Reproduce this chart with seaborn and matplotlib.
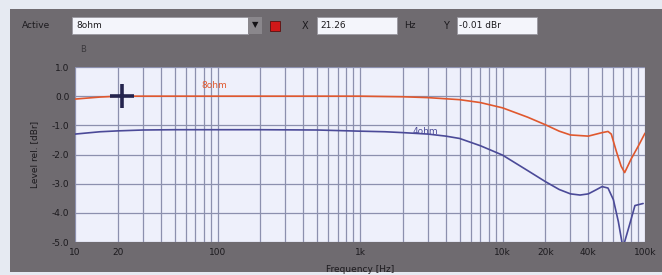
import numpy as np
import pandas as pd
import matplotlib
matplotlib.use("Agg")
import matplotlib.pyplot as plt
from matplotlib.patches import Rectangle
from matplotlib.ticker import FixedLocator, NullFormatter, LogLocator
import seaborn as sns

# ---- data ----
freq_8 = [10, 15, 20, 50, 100, 200, 500, 1000, 2000, 3000, 5000, 7000, 10000,
          15000, 20000, 25000, 30000, 40000, 50000, 55000, 58000, 63000, 68000,
          72000, 80000, 90000, 100000]
level_8 = [-0.10, -0.03, 0.0, 0.0, 0.0, 0.0, 0.0, 0.0, -0.02, -0.05, -0.12, -0.22, -0.40,
           -0.72, -0.98, -1.20, -1.33, -1.37, -1.25, -1.21, -1.30, -1.90, -2.40,
           -2.62, -2.15, -1.70, -1.27]
freq_4 = [10, 15, 20, 30, 50, 100, 200, 500, 1000, 1500, 2000, 3000, 4000, 5000, 7000,
          10000, 15000, 20000, 25000, 30000, 35000, 40000, 45000, 50000, 55000,
          60000, 65000, 70000, 78000, 85000, 97000]
level_4 = [-1.30, -1.22, -1.19, -1.16, -1.15, -1.15, -1.15, -1.16, -1.20, -1.22, -1.25, -1.30,
           -1.37, -1.45, -1.70, -2.02, -2.55, -2.93, -3.20, -3.35, -3.39, -3.35, -3.22,
           -3.10, -3.15, -3.55, -4.30, -5.20, -4.40, -3.75, -3.68]
labels = ["8ohm", "4ohm"]
x_ticks = [10, 20, 100, 1000, 10000, 20000, 40000, 100000]
x_tick_labels = ["10", "20", "100", "1k", "10k", "20k", "40k", "100k"]
y_ticks = [1, 0, -1, -2, -3, -4, -5]
y_tick_labels = ["1.0", "0.0", "-1.0", "-2.0", "-3.0", "-4.0", "-5.0"]
cursor_x, cursor_y = 21.26, -0.01

df = pd.concat([
    pd.DataFrame({"freq": freq_8, "level": level_8, "load": labels[0]}),
    pd.DataFrame({"freq": freq_4, "level": level_4, "load": labels[1]}),
])

sns.set_style("white")
plt.rcParams['font.family'] = ['DejaVu Sans']

W, H = 662, 275
fig = plt.figure(figsize=(W / 100, H / 100), dpi=100)
fig.patch.set_facecolor("#e6eaf2")

def px(x, y, w, h):
    return (x / W, 1 - (y + h) / H, w / W, h / H)

def rect(x, y, w, h, **kw):
    l, b, ww, hh = px(x, y, w, h)
    r = Rectangle((l, b), ww, hh, transform=fig.transFigure, **kw)
    fig.patches.append(r)
    return r

panel_col = "#6f6b70"
rect(10, 9, 652, 263, facecolor=panel_col, edgecolor="none", zorder=-10)

# top bar widgets
txt_col = "#1c1a1e"
fig.text(22 / W, 1 - 26 / H, "Active", fontsize=6.5, color=txt_col, va="center")
rect(72, 17, 176, 17, facecolor="#f4f5fb", edgecolor="#9a98a0", lw=0.6, zorder=-5)
fig.text(76 / W, 1 - 26 / H, "8ohm", fontsize=6.5, color=txt_col, va="center")
rect(248, 17, 14, 17, facecolor="#8a878c", edgecolor="none", zorder=-5)
fig.text(255 / W, 1 - 25 / H, "▼", fontsize=6, color="#141216", va="center", ha="center")
rect(270, 21, 10, 10, facecolor="#d01818", edgecolor="#5a1010", lw=0.6, zorder=-5)
fig.text(302 / W, 1 - 26 / H, "X", fontsize=7, color=txt_col, va="center")
rect(317, 17, 80, 17, facecolor="#f4f5fb", edgecolor="#9a98a0", lw=0.6, zorder=-5)
fig.text(320 / W, 1 - 26 / H, f"{cursor_x:.2f}", fontsize=6.5, color=txt_col, va="center")
fig.text(404 / W, 1 - 26 / H, "Hz", fontsize=6.5, color=txt_col, va="center")
fig.text(443 / W, 1 - 26 / H, "Y", fontsize=7, color=txt_col, va="center")
rect(457, 17, 80, 17, facecolor="#f4f5fb", edgecolor="#9a98a0", lw=0.6, zorder=-5)
fig.text(459 / W, 1 - 26 / H, f"{cursor_y:.2f} dBr", fontsize=6.5, color=txt_col, va="center")
fig.text(83 / W, 1 - 49 / H, "B", fontsize=6, color="#3a383c", va="center", ha="center")

# plot axes
ax = fig.add_axes(px(75, 67, 570, 175))
ax.set_zorder(1)
ax.set_facecolor("#eef0fb")
sns.lineplot(data=df, x="freq", y="level", hue="load",
             palette={"8ohm": "#e0582e", "4ohm": "#4b4a98"},
             ax=ax, legend=False, linewidth=1.2, estimator=None, sort=False)
ax.set_xscale("log")
ax.set_xlim(10, 100000)
ax.set_ylim(-5, 1)

grid_col = "#8c90ae"
ax.xaxis.set_major_locator(FixedLocator(x_ticks))
ax.xaxis.set_minor_locator(LogLocator(base=10, subs=np.arange(2, 10)))
ax.xaxis.set_minor_formatter(NullFormatter())
ax.set_xticks(x_ticks)
ax.set_xticklabels(x_tick_labels)
ax.set_yticks(y_ticks)
ax.set_yticklabels(y_tick_labels)
ax.grid(True, which="both", axis="x", color=grid_col, lw=0.9)
ax.grid(True, which="major", axis="y", color=grid_col, lw=0.9)
ax.tick_params(axis="both", which="major", labelsize=6.5, colors=txt_col,
               length=3, width=0.8, pad=1)
ax.tick_params(axis="x", which="minor", length=0)
for s in ax.spines.values():
    s.set_visible(False)

ax.set_xlabel("Frequency [Hz]", fontsize=6.5, color=txt_col, labelpad=6)
ax.set_ylabel("Level rel. [dBr]", fontsize=6.5, color=txt_col, labelpad=9)

# curve labels
ax.text(95, 0.38, labels[0], fontsize=6.5, color="#e0582e", va="center", ha="center")
ax.text(2860, -1.2, labels[1], fontsize=6.5, color="#4b4a98", va="center", ha="center")

# cursor crosshair
ax.plot([cursor_x], [cursor_y], marker="+", markersize=17, mew=2.6,
        color="#24244e", zorder=5)

fig.savefig("out.png", dpi=100, facecolor=fig.get_facecolor())
